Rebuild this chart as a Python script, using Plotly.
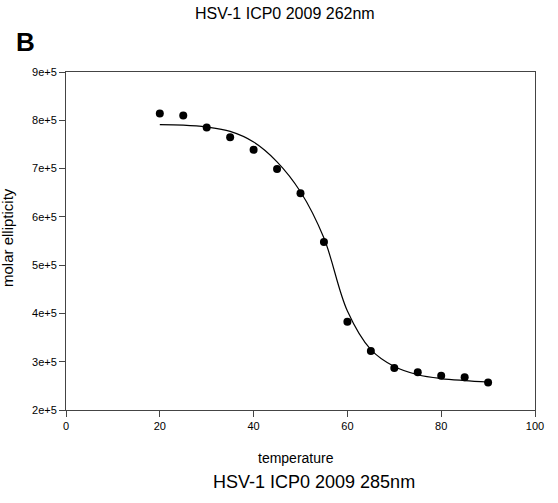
import plotly.graph_objects as go

# Data
temperature = [20, 25, 30, 35, 40, 45, 50, 55, 60, 65, 70, 75, 80, 85, 90]
molar_ellipticity = [8.14e5, 8.10e5, 7.85e5, 7.65e5, 7.39e5, 6.99e5, 6.49e5,
                     5.48e5, 3.83e5, 3.22e5, 2.87e5, 2.78e5, 2.71e5, 2.68e5, 2.57e5]

fit_temperature = [20, 25, 30, 35, 40, 45, 50, 55, 60, 65, 70, 75, 80, 85, 90]
fit_values = [7.91e5, 7.90e5, 7.86e5, 7.77e5, 7.55e5, 7.14e5, 6.52e5,
              5.56e5, 4.05e5, 3.25e5, 2.90e5, 2.73e5, 2.65e5, 2.61e5, 2.58e5]

y_ticks = [2e5, 3e5, 4e5, 5e5, 6e5, 7e5, 8e5, 9e5]
y_tick_labels = ["2e+5", "3e+5", "4e+5", "5e+5", "6e+5", "7e+5", "8e+5", "9e+5"]
x_ticks = [0, 20, 40, 60, 80, 100]

FONT = "Liberation Sans, Arial, sans-serif"
W, H = 558, 503
L, R, T, B = 66, 23, 72, 93
pw, ph = W - L - R, H - T - B


def px(x):
    return (x - L) / pw


def py(y):
    return (H - B - y) / ph


fig = go.Figure()
fig.add_trace(go.Scatter(x=fit_temperature, y=fit_values, mode="lines",
                         line=dict(color="black", width=1.2, shape="spline", smoothing=1.0),
                         showlegend=False, hoverinfo="skip"))
fig.add_trace(go.Scatter(x=temperature, y=molar_ellipticity, mode="markers",
                         marker=dict(color="black", size=8), showlegend=False))

axis_common = dict(showgrid=False, zeroline=False, showline=True, mirror=True,
                   linecolor="#444", linewidth=1, ticks="outside", ticklen=6,
                   tickcolor="#444", tickwidth=1,
                   tickfont=dict(family=FONT, size=11, color="black"))

fig.update_xaxes(range=[0, 100], tickvals=x_ticks, **axis_common)
fig.update_yaxes(range=[2e5, 9e5], tickvals=y_ticks, ticktext=y_tick_labels, **axis_common)

annotations = [
    dict(text="HSV-1 ICP0 2009 262nm", x=px(285), y=py(13), font=dict(size=16, family=FONT, color="black")),
    dict(text="<b>B</b>", x=px(25), y=py(42), font=dict(size=26, family=FONT, color="black")),
    dict(text="temperature", x=px(296), y=py(458), font=dict(size=14, family=FONT, color="black")),
    dict(text="HSV-1 ICP0 2009 285nm", x=px(314), y=py(482), font=dict(size=18, family=FONT, color="black")),
    dict(text="molar ellipticity", x=px(8), y=py(238), textangle=-90, font=dict(size=15, family=FONT, color="black")),
]
for a in annotations:
    a.update(xref="paper", yref="paper", showarrow=False, xanchor="center", yanchor="middle")

fig.update_layout(width=W, height=H, margin=dict(l=L, r=R, t=T, b=B, autoexpand=False),
                  plot_bgcolor="white", paper_bgcolor="white", annotations=annotations)

fig.write_html("out.html", config={"displayModeBar": False},
               post_script="document.body.style.margin='0';")
